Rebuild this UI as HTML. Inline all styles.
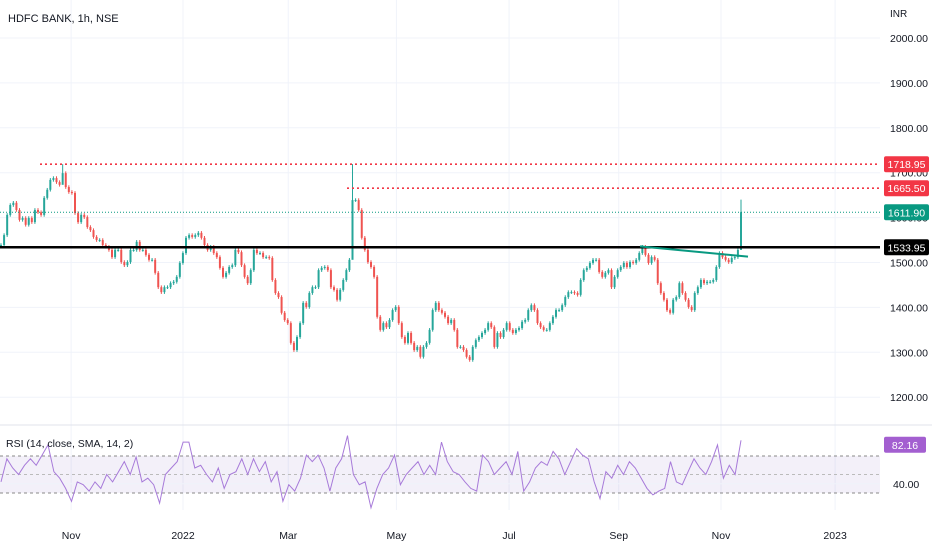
<!DOCTYPE html>
<html><head><meta charset="utf-8"><style>
body{margin:0;background:#fff;font-family:"Liberation Sans",sans-serif}
svg{display:block}
text{font-family:"Liberation Sans",sans-serif;fill:#131722}
</style></head><body>
<svg id="chart" width="932" height="550" xmlns="http://www.w3.org/2000/svg">
<g id="grid"></g>
<g id="axes"></g>
<rect x="0" y="456" width="880" height="37" fill="#7e57c2" fill-opacity="0.09"/>
<g id="rsiLines"></g>
<g id="candles"></g>
<g id="levels"></g>
<g id="rsi"></g>
<text x="8" y="22" font-size="11">HDFC BANK, 1h, NSE</text>
<text x="890" y="17" font-size="10" fill="#555">INR</text>
<text x="6" y="447" font-size="10.5">RSI (14, close, SMA, 14, 2)</text>
<line x1="0" y1="425" x2="932" y2="425" stroke="#e0e3eb"/>
</svg>
<script>
const closes=[1539,1561,1606,1628,1633,1617,1595,1599,1584,1599,1590,1617,1612,1606,1644,1662,1684,1688,1679,1673,
1699,1668,1657,1655,1610,1590,1606,1601,1579,1572,1557,1550,1550,1539,1535,1528,1512,1528,1528,1501,
1494,1501,1528,1528,1546,1528,1528,1517,1506,1506,1477,1445,1434,1445,1445,1454,1457,1468,1499,1521,
1555,1561,1557,1561,1566,1555,1539,1528,1535,1521,1512,1488,1468,1477,1490,1494,1528,1523,1494,1468,
1454,1483,1528,1521,1521,1512,1512,1510,1461,1432,1423,1388,1372,1365,1321,1305,1334,1365,1410,1401,
1432,1445,1445,1483,1488,1490,1483,1445,1439,1417,1439,1461,1483,1506,1639,
1639,1617,1555,1528,1501,1490,1468,1379,1350,1365,1356,1372,1394,1401,1365,1334,1321,1343,1321,1305,
1312,1290,1312,1321,1350,1394,1410,1394,1388,1379,1365,1372,1350,1312,1312,1305,1290,1283,1312,1327,1334,1343,1350,1365,1356,
1312,1343,1334,1350,1365,1350,1343,1350,1354,1368,1372,1394,1405,1394,1365,1356,1350,1350,1365,1379,
1394,1394,1405,1423,1434,1434,1432,1428,1461,1483,1488,1499,1506,1506,1479,1468,1477,1483,1445,1468,
1483,1490,1499,1490,1501,1499,1506,1521,1535,1517,1499,1512,1506,1454,1432,1417,1394,1388,1417,1423,
1454,1432,1417,1401,1394,1432,1445,1461,1454,1457,1457,1461,1490,1521,1512,1506,1501,1510,1512,1528,1612];
const extremeIdx=[20,114,closes.length-1];
const extremeHigh=[1719,1719,1640];
const extremeLow=[1690,1555,1533];
const rsiValues=[42,67,57,50,60,67,60,71,82,53,46,35,21,42,39,32,42,35,50,42,53,64,50,69,42,46,39,19,50,57,64,85,85,57,60,50,42,57,35,50,53,67,50,67,53,64,42,53,21,39,32,46,71,64,71,57,32,57,67,92,50,39,42,14,35,50,57,71,39,50,57,64,50,60,50,85,64,53,50,42,35,32,71,64,50,57,64,50,75,32,42,57,64,60,75,67,50,64,78,71,67,42,24,53,46,60,50,64,57,46,35,28,32,35,64,42,39,53,67,57,50,64,82,46,60,50,87];
const priceTicks=[2000,1900,1800,1700,1600,1500,1400,1300,1200];
const timeLabels=["Nov","2022","Mar","May","Jul","Sep","Nov","2023"];
const timePos=[0.096,0.247,0.389,0.535,0.687,0.835,0.973,1.127];
const levelPrices=[1718.95,1665.50,1611.90,1533.95];

const NS="http://www.w3.org/2000/svg";
const yP=p=>38+(2000-p)*0.449;
const yR=v=>456+(70-v)*0.925;
const X0=1,X1=741;
const xC=i=>X0+i*(X1-X0)/(closes.length-1);
const xT=f=>f*741;
function mk(tag,attrs,parent){const e=document.createElementNS(NS,tag);for(const k in attrs)e.setAttribute(k,attrs[k]);parent.appendChild(e);return e;}
const grid=document.getElementById('grid');
priceTicks.forEach(p=>{
  const l=mk('line',{x1:0,x2:880,y1:yP(p),y2:yP(p),stroke:'#f0f3fa'},grid);
  
  
  const t=mk('text',{x:890,y:yP(p)+4,'font-size':10.5,fill:'#444'},document.getElementById('axes'));
  t.textContent=p.toFixed(2);
  
  
});
timeLabels.forEach((s,i)=>{
  const x=xT(timePos[i]);
  const l=mk('line',{x1:x,x2:x,y1:0,y2:510,stroke:'#f0f3fa'},grid);
  
  
  const t=mk('text',{x:x,y:539,'font-size':10.5,'text-anchor':'middle',fill:'#444'},document.getElementById('axes'));
  t.textContent=s;
  
  
});
const rl=document.getElementById('rsiLines');
[[70,'#888'],[50,'#bbb'],[30,'#888']].forEach(([v,c])=>{
  const l=mk('line',{x1:0,x2:880,y1:yR(v),y2:yR(v),stroke:c,'stroke-dasharray':'3,3'},rl);
  
  
});
const gl=mk('line',{x1:0,x2:880,y1:yR(40),y2:yR(40),stroke:'#f0f3fa'},rl);


const c=document.getElementById('candles');
closes.forEach((cl,i)=>{
  const op=i?closes[i-1]:cl;
  let hi=Math.max(op,cl)+4,lo=Math.min(op,cl)-4;
  const k=extremeIdx.indexOf(i);
  if(k>=0){hi=extremeHigh[k];lo=extremeLow[k];}
  const up=cl>=op,col=up?'#26a69a':'#ef5350',x=xC(i);
  const w=mk('line',{x1:x,x2:x,y1:yP(hi),y2:yP(lo),stroke:col,'stroke-width':1},c);
  
  
  const yt=yP(Math.max(op,cl)),yb=yP(Math.min(op,cl));
  const b=mk('rect',{x:x-1,y:yt,width:2,height:Math.max(1,yb-yt),fill:col},c);
  
  
});
const lv=document.getElementById('levels');
const cols=['#f23645','#f23645','#089981','#000'];
const starts=[40,347,0,0];
levelPrices.forEach((p,i)=>{
  const y=yP(p);
  const attrs=i==3?{x1:0,x2:880,y1:y,y2:y,stroke:'#000','stroke-width':2.5}:{x1:starts[i],x2:880,y1:y,y2:y,stroke:cols[i],'stroke-width':i==2?1:1.6,'stroke-dasharray':i==2?'1,2':'2,3'};
  const l=mk('line',attrs,lv);
  
  
  const r=mk('rect',{x:884,y:y-8,width:45,height:16,rx:2,fill:cols[i]},lv);
  
  
  const t=mk('text',{x:906.5,y:y+4,'font-size':10.5,'text-anchor':'middle',style:'fill:#fff'},lv);
  t.textContent=p.toFixed(2);
  
  
});
const tl=mk('line',{x1:640,y1:yP(1536),x2:748,y2:yP(1513),stroke:'#089981','stroke-width':2},lv);


const rg=document.getElementById('rsi');
const pts=rsiValues.map((v,i)=>(X0+i*(X1-X0)/(rsiValues.length-1)).toFixed(1)+','+yR(v).toFixed(1)).join(' ');
const pl=mk('polyline',{points:pts,fill:'none',stroke:'#a77ad9','stroke-width':1},rg);


const rr=mk('rect',{x:884,y:yR(82.16)-8,width:42,height:16,rx:2,fill:'#a35fd0'},rg);


const rt=mk('text',{x:905,y:yR(82.16)+4,'font-size':10.5,'text-anchor':'middle',style:'fill:#fff'},rg);
rt.textContent='82.16';


const r40=mk('text',{x:893,y:yR(40)+4,'font-size':10.5,fill:'#444'},rg);
r40.textContent='40.00';


</script>
</body></html>
